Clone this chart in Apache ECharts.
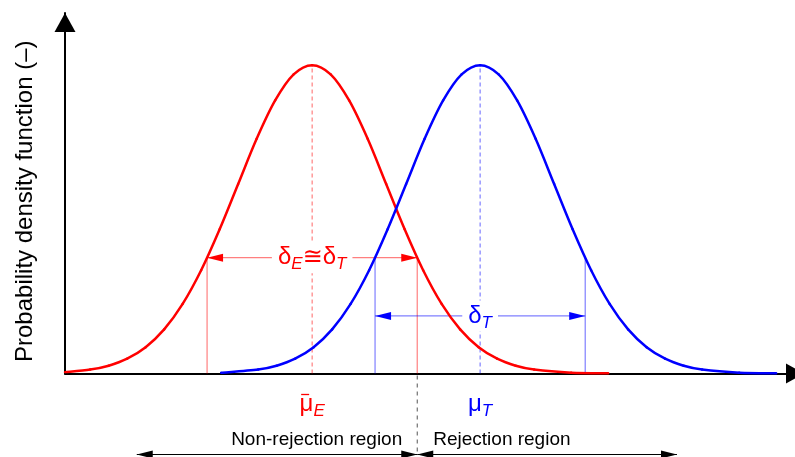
<!DOCTYPE html>
<html>
<head>
<meta charset="utf-8">
<script src="https://cdn.jsdelivr.net/npm/echarts@6/dist/echarts.min.js"></script>
<style>
  html, body { margin: 0; padding: 0; background: #fff; }
  #chart { width: 795px; height: 457px; }
</style>
</head>
<body>
<div id="chart"></div>
<script>
// Sampled probability density curves: estimated distribution (E) and target distribution (T)
const xE = [0.00, 0.34, 0.59, 0.84, 1.09, 1.34, 1.59, 1.84, 2.09, 2.34, 2.59, 2.84, 3.09, 3.34, 3.59, 3.84, 4.09, 4.34, 4.59, 4.84, 5.09, 5.34, 5.59, 5.84, 6.09, 6.34, 6.84, 7.34];
const yE = [0.0018, 0.0051, 0.0102, 0.0193, 0.0343, 0.0575, 0.0907, 0.1346, 0.188, 0.247, 0.306, 0.356, 0.390, 0.402, 0.390, 0.356, 0.306, 0.247, 0.188, 0.1346, 0.0907, 0.0575, 0.0343, 0.0193, 0.0102, 0.0051, 0.0010, 0.0002];
const xT = [2.11, 2.61, 2.86, 3.11, 3.36, 3.61, 3.86, 4.11, 4.36, 4.61, 4.86, 5.11, 5.36, 5.61, 5.86, 6.11, 6.36, 6.61, 6.86, 7.11, 7.36, 7.61, 7.86, 8.11, 8.36, 8.61, 9.11, 9.61];
const yT = [0.0010, 0.0051, 0.0102, 0.0193, 0.0343, 0.0575, 0.0907, 0.1346, 0.188, 0.247, 0.306, 0.356, 0.390, 0.402, 0.390, 0.356, 0.306, 0.247, 0.188, 0.1346, 0.0907, 0.0575, 0.0343, 0.0193, 0.0102, 0.0051, 0.0010, 0.0002];

// Means and spread markers
const means = [3.34, 5.61];
const peakDensity = 0.402;
const deltaE = [1.92, 4.76];
const deltaT = [4.19, 7.03];
const deltaLevel = 0.151;
const deltaArrowLevels = [0.151, 0.075];

// Decision regions split at the critical value
const criticalValue = 4.76;
const regionEdges = [0.97, 4.76, 8.27];
const regionNames = ['Non-rejection region', 'Rejection region'];
const yAxisTitle = 'Probability density function (–)';

const FONT = '"Liberation Sans", Arial, sans-serif';
const RED = '#ff0000';
const BLUE = '#0000ff';
const colors = [RED, BLUE];
const lightColors = ['rgba(255,0,0,0.5)', 'rgba(0,0,255,0.5)'];

function pairs(xs, ys) { return xs.map((x, i) => [x, ys[i]]); }

function greekRich(color) {
  return {
    g: { fontSize: 24, fill: color, fontFamily: FONT },
    s: { fontSize: 17, fontStyle: 'italic', fill: color, fontFamily: FONT, padding: [14, 0, 0, 0] },
    r: { fontSize: 24, fill: color, fontFamily: '"DejaVu Sans", sans-serif' }
  };
}

function arrowHead(tipX, y, dir, color, len, half) {
  // dir = -1 points left, +1 points right
  return {
    type: 'polygon',
    shape: { points: [[tipX, y], [tipX - dir * len, y - half], [tipX - dir * len, y + half]] },
    style: { fill: color }
  };
}

// Smooth curve: each data point starts a Catmull-Rom segment to the next point
function curveRenderer(xs, ys, color) {
  return function (params, api) {
    const i = params.dataIndex;
    const n = xs.length;
    if (i >= n - 1) return null;
    const pt = (k) => api.coord([xs[Math.max(0, Math.min(n - 1, k))], ys[Math.max(0, Math.min(n - 1, k))]]);
    const p0 = pt(i - 1), p1 = pt(i), p2 = pt(i + 1), p3 = pt(i + 2);
    return {
      type: 'bezierCurve',
      shape: {
        x1: p1[0], y1: p1[1], x2: p2[0], y2: p2[1],
        cpx1: p1[0] + (p2[0] - p0[0]) / 6, cpy1: p1[1] + (p2[1] - p0[1]) / 6,
        cpx2: p2[0] - (p3[0] - p1[0]) / 6, cpy2: p2[1] - (p3[1] - p1[1]) / 6
      },
      style: { stroke: color, lineWidth: 2.5, fill: null, lineCap: 'round' }
    };
  };
}

const chart = echarts.init(document.getElementById('chart'), null, { renderer: 'canvas' });

const deltaLabels = ['{g|δ}{s|E}{r|≅}{g|δ}{s|T}', '{g|δ}{s|T}'];
const meanLabels = ['{g|μ}{s|E}', '{g|μ}{s|T}'];
const meanHasBar = [true, false];

chart.setOption({
  animation: false,
  backgroundColor: '#fff',
  grid: { left: 65, right: 0, top: 13, bottom: 83.5 },
  xAxis: {
    type: 'value', min: 0, max: 9.865,
    axisLine: {
      show: true, onZero: false,
      lineStyle: { color: '#000', width: 2 },
      symbol: ['none', 'triangle'], symbolSize: [20, 18], symbolOffset: [0, 0]
    },
    axisTick: { show: false }, axisLabel: { show: false }, splitLine: { show: false }
  },
  yAxis: {
    type: 'value', min: 0, max: 0.47,
    name: yAxisTitle, nameLocation: 'middle', nameGap: 28,
    nameTextStyle: { fontSize: 24, color: '#000', fontFamily: FONT, padding: [0, 16, 0, 0] },
    axisLine: {
      show: true, onZero: false,
      lineStyle: { color: '#000', width: 2 },
      symbol: ['none', 'triangle'], symbolSize: [21, 19], symbolOffset: [0, -9.5]
    },
    axisTick: { show: false }, axisLabel: { show: false }, splitLine: { show: false }
  },
  series: [
    {
      name: 'E', type: 'custom', z: 5, data: pairs(xE, yE),
      renderItem: curveRenderer(xE, yE, RED)
    },
    {
      name: 'T', type: 'custom', z: 5, data: pairs(xT, yT),
      renderItem: curveRenderer(xT, yT, BLUE)
    },
    {
      // dashed lines at the means
      type: 'custom', z: 3,
      data: means.map((m, i) => [m, peakDensity, i]),
      renderItem: function (params, api) {
        const i = api.value(2);
        const p0 = api.coord([api.value(0), 0]);
        const p1 = api.coord([api.value(0), api.value(1)]);
        return {
          type: 'line',
          shape: { x1: p0[0], y1: p0[1], x2: p1[0], y2: p1[1] },
          style: { stroke: lightColors[i], lineWidth: 1.2, lineDash: [4, 3] }
        };
      }
    },
    {
      // spread brackets with double arrows and labels
      type: 'custom', z: 4,
      encode: { x: [0, 1], y: [2, 3] },
      data: [
        [deltaE[0], deltaE[1], deltaLevel, deltaArrowLevels[0], 0],
        [deltaT[0], deltaT[1], deltaLevel, deltaArrowLevels[1], 1]
      ],
      renderItem: function (params, api) {
        const i = api.value(4);
        const xa = api.value(0), xb = api.value(1);
        const a0 = api.coord([xa, 0]), a1 = api.coord([xa, api.value(2)]);
        const b0 = api.coord([xb, 0]), b1 = api.coord([xb, api.value(2)]);
        const ya = api.coord([xa, api.value(3)])[1];
        const c = api.coord([means[i], api.value(3)]);
        return {
          type: 'group',
          children: [
            { type: 'line', shape: { x1: a0[0], y1: a0[1], x2: a1[0], y2: a1[1] }, style: { stroke: lightColors[i], lineWidth: 1.2 } },
            { type: 'line', shape: { x1: b0[0], y1: b0[1], x2: b1[0], y2: b1[1] }, style: { stroke: lightColors[i], lineWidth: 1.2 } },
            { type: 'line', shape: { x1: a0[0], y1: ya, x2: b0[0], y2: ya }, style: { stroke: lightColors[i], lineWidth: 1.2 } },
            arrowHead(a0[0], ya, -1, colors[i], 16, 4),
            arrowHead(b0[0], ya, 1, colors[i], 16, 4),
            {
              type: 'text', x: c[0], y: c[1], z2: 10,
              style: {
                text: deltaLabels[i], rich: greekRich(colors[i]),
                align: 'center', verticalAlign: 'middle',
                backgroundColor: '#fff', padding: [0, 6]
              }
            }
          ]
        };
      }
    },
    {
      // mean labels under the axis
      type: 'custom', z: 4,
      data: means.map((m, i) => [m, 0, i]),
      renderItem: function (params, api) {
        const i = api.value(2);
        const p = api.coord([api.value(0), 0]);
        const children = [{
          type: 'text', x: p[0], y: p[1] + 31,
          style: { text: meanLabels[i], rich: greekRich(colors[i]), align: 'center', verticalAlign: 'middle' }
        }];
        if (meanHasBar[i]) {
          children.push({
            type: 'line',
            shape: { x1: p[0] - 11, y1: p[1] + 21, x2: p[0] - 3, y2: p[1] + 21 },
            style: { stroke: colors[i], lineWidth: 1.3 }
          });
        }
        return { type: 'group', children: children };
      }
    },
    {
      // critical value boundary
      type: 'custom', z: 3,
      data: [[criticalValue, 0]],
      renderItem: function (params, api) {
        const p = api.coord([api.value(0), 0]);
        return {
          type: 'line',
          shape: { x1: p[0], y1: p[1] + 2, x2: p[0], y2: p[1] + 80 },
          style: { stroke: '#555', lineWidth: 1, lineDash: [4, 4] }
        };
      }
    },
    {
      // decision regions with double arrows
      type: 'custom', z: 4,
      data: regionNames.map((n, i) => [regionEdges[i], regionEdges[i + 1], i]),
      renderItem: function (params, api) {
        const i = api.value(2);
        const p1 = api.coord([api.value(0), 0]);
        const p2 = api.coord([api.value(1), 0]);
        const ya = p1[1] + 81;
        const yt = p1[1] + 66;
        const tx = i === 0 ? p2[0] - 15 : p1[0] + 16;
        return {
          type: 'group',
          children: [
            { type: 'line', shape: { x1: p1[0], y1: ya, x2: p2[0], y2: ya }, style: { stroke: '#000', lineWidth: 1 } },
            arrowHead(p1[0], ya, -1, '#000', 16, 4),
            arrowHead(p2[0], ya, 1, '#000', 16, 4),
            {
              type: 'text', x: tx, y: yt,
              style: {
                text: regionNames[i], fill: '#000', fontSize: 19, fontFamily: FONT,
                align: i === 0 ? 'right' : 'left', verticalAlign: 'middle'
              }
            }
          ]
        };
      }
    }
  ]
});
</script>
</body>
</html>
